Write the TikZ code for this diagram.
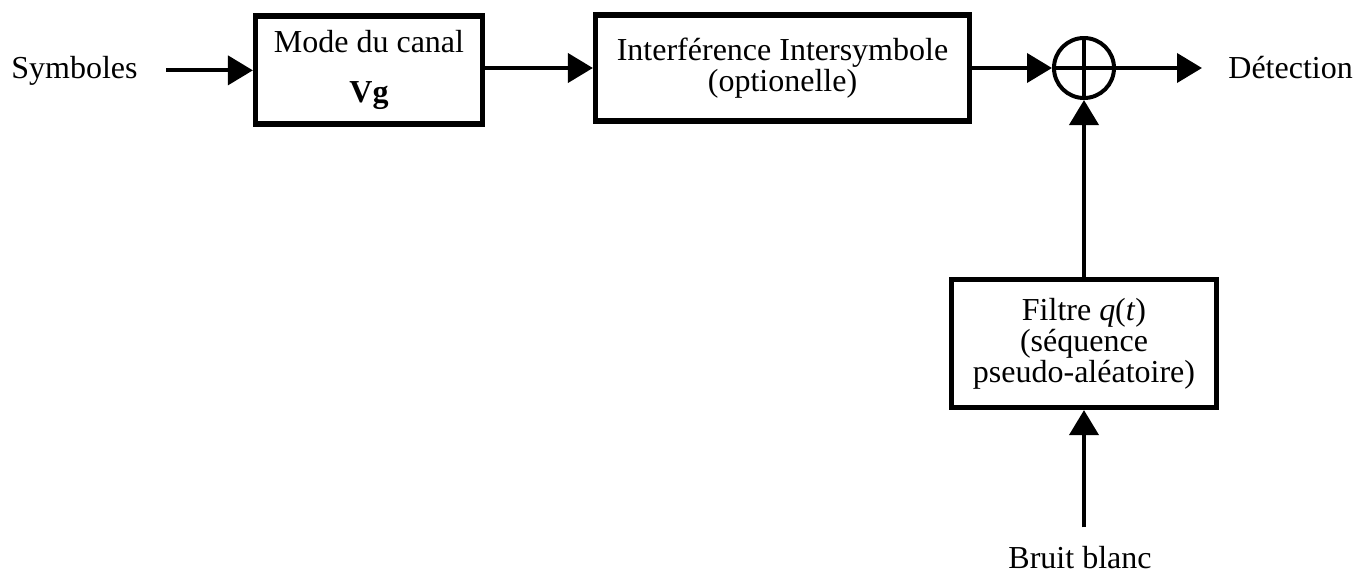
\documentclass[tikz,border=0pt]{standalone}
\usepackage{fontspec}
\setmainfont{Liberation Serif}
\usetikzlibrary{arrows.meta}
\begin{document}
\begin{tikzpicture}[x=0.5pt,y=-0.5pt,
  every node/.style={font=\fontsize{16}{15.5}\selectfont},
  blockbox/.style={draw, line width=2.6pt, align=center, inner sep=0pt},
  lbl/.style={inner sep=0pt},
  arr/.style={line width=2pt, -{Triangle[length=12.5pt,width=14.5pt]}}
]
\useasboundingbox (0,0) rectangle (1372,574);
% nodes
\node[lbl, anchor=base] (sym) at (74.5,78) {Symboles};
\node[blockbox, minimum width=113.5pt, minimum height=54pt] (mode) at (369,70)
  {Mode du canal\\[9.5pt]\textbf{Vg}};
\node[blockbox, minimum width=187pt, minimum height=53pt] (isi) at (782.5,68)
  {Interférence Intersymbole\\(optionelle)};
\node[draw, circle, line width=2pt, minimum size=30pt, inner sep=0pt] (sum) at (1084,68) {};
\node[lbl, anchor=base west] (det) at (1228,78) {Détection};
\node[blockbox, minimum width=132.5pt, minimum height=64pt] (filt) at (1084,343.5)
  {Filtre \textit{q}(\textit{t})\\(séquence\\pseudo-aléatoire)};
\node[lbl, anchor=base] (bb) at (1080,568) {Bruit blanc};
% plus sign
\draw[line width=1.8pt] (sum.north) -- (sum.south);
\draw[line width=1.8pt] (sum.west) -- (sum.east);
% connectors
\draw[arr, shorten <=14pt] (sym.east) -- (sym.east -| mode.west);
\draw[arr] (mode.east |- isi.west) -- (isi.west);
\draw[arr] (isi.east) -- (sum.west);
\draw[arr, shorten >=13pt] (sum.east) -- (sum.east -| det.west);
\draw[arr] (filt.north) -- (sum.south);
\draw[arr, shorten <=9pt] (filt.south |- bb.north) -- (filt.south);
\end{tikzpicture}
\end{document}
